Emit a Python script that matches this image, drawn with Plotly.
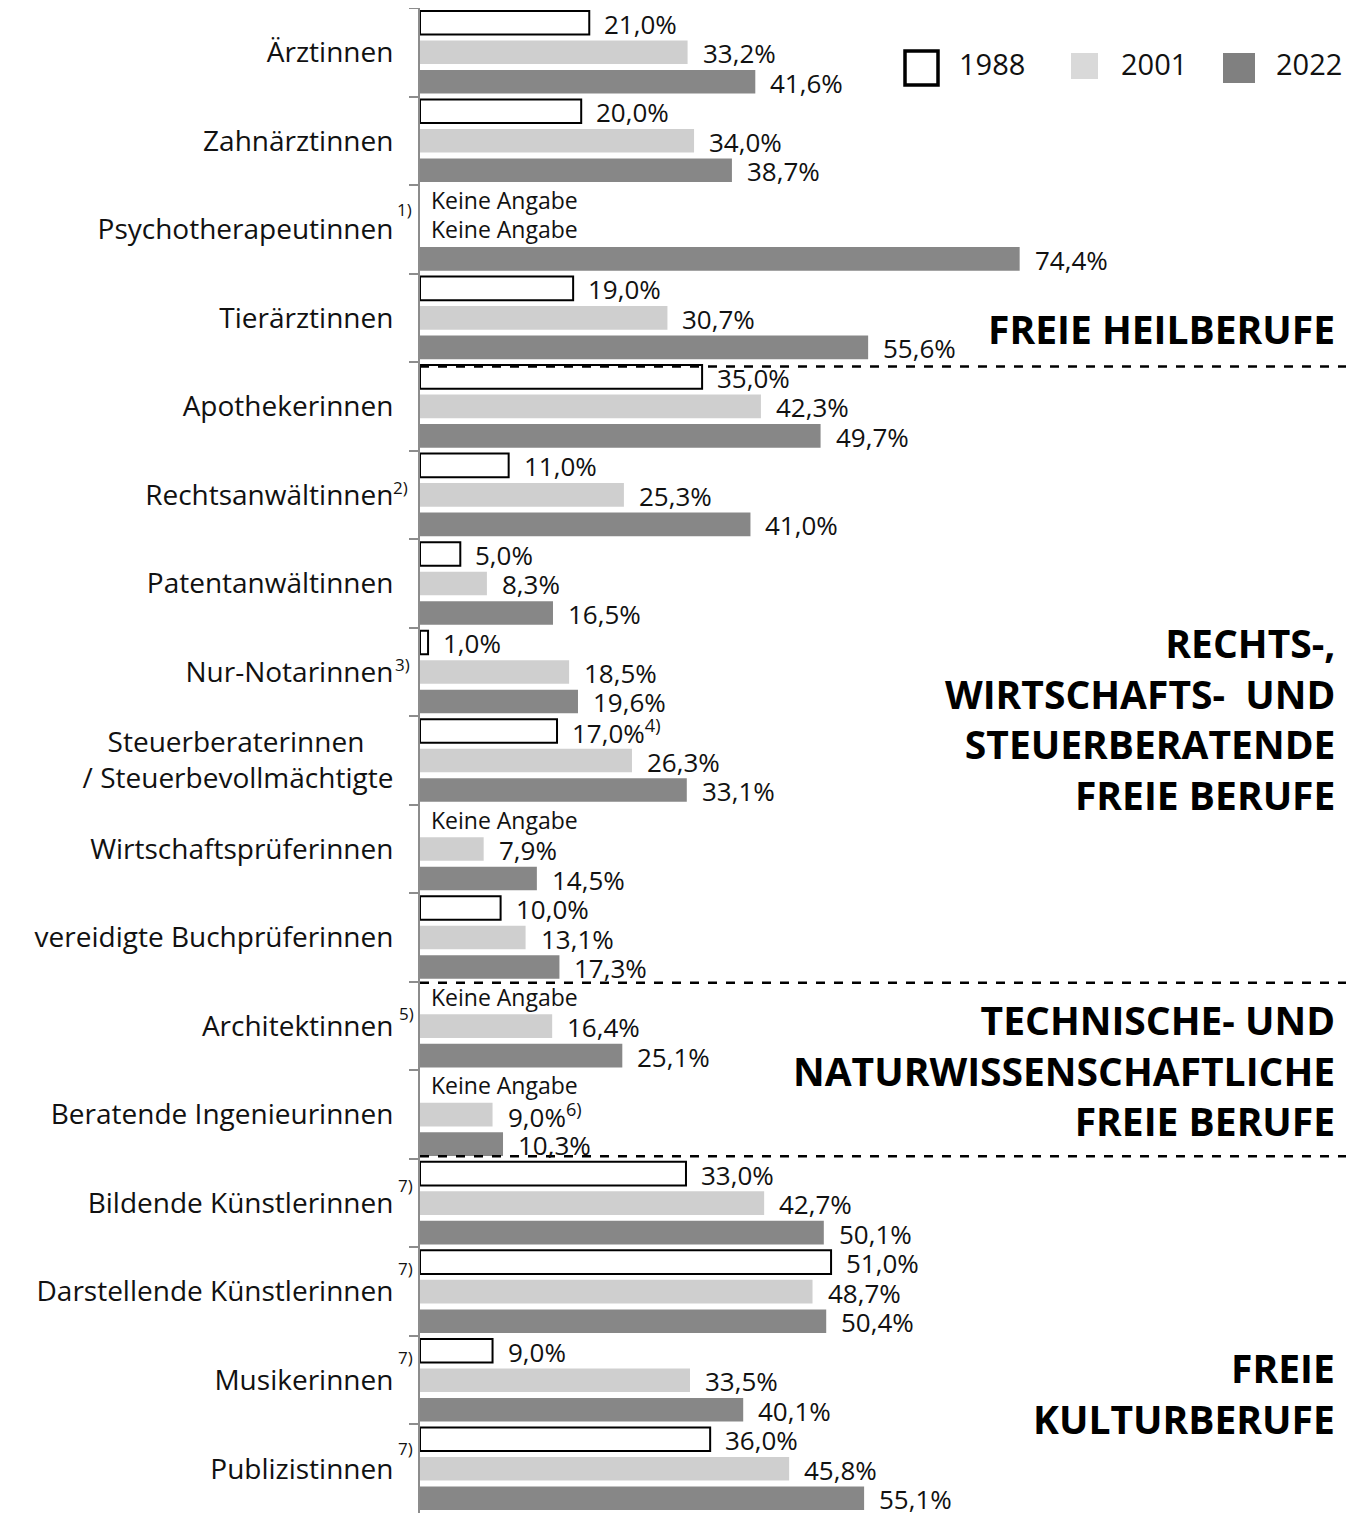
import plotly.graph_objects as go

# ---------------- data ----------------
categories = [
    "Ärztinnen", "Zahnärztinnen", "Psychotherapeutinnen", "Tierärztinnen",
    "Apothekerinnen", "Rechtsanwältinnen", "Patentanwältinnen", "Nur-Notarinnen",
    "Steuerberaterinnen\u00a0\u00a0\u00a0\u00a0<br>/ Steuerbevollmächtigte",
    "Wirtschaftsprüferinnen", "vereidigte Buchprüferinnen", "Architektinnen",
    "Beratende Ingenieurinnen", "Bildende Künstlerinnen", "Darstellende Künstlerinnen",
    "Musikerinnen", "Publizistinnen",
]
years = ["1988", "2001", "2022"]
values_1988 = [21.0, 20.0, None, 19.0, 35.0, 11.0, 5.0, 1.0, 17.0, None, 10.0, None, None, 33.0, 51.0, 9.0, 36.0]
values_2001 = [33.2, 34.0, None, 30.7, 42.3, 25.3, 8.3, 18.5, 26.3, 7.9, 13.1, 16.4, 9.0, 42.7, 48.7, 33.5, 45.8]
values_2022 = [41.6, 38.7, 74.4, 55.6, 49.7, 41.0, 16.5, 19.6, 33.1, 14.5, 17.3, 25.1, 10.3, 50.1, 50.4, 40.1, 55.1]
# footnotes attached to value labels: (year, category index, marker)
value_notes = {("1988", 8): "4)", ("2001", 12): "6)"}
# footnotes attached to category names: category index -> marker
category_notes = {2: "1)", 5: "2)", 7: "3)", 11: "5)", 13: "7)", 14: "7)", 15: "7)", 16: "7)"}
groups = [
    ("FREIE HEILBERUFE", 3.12),
    ("RECHTS-,<br>WIRTSCHAFTS-  UND<br>STEUERBERATENDE<br>FREIE BERUFE", 7.52),
    ("TECHNISCHE- UND<br>NATURWISSENSCHAFTLICHE<br>FREIE BERUFE", 11.50),
    ("FREIE<br>KULTURBERUFE", 15.14),
]
separators = [3.55, 10.51, 12.47]
missing_text = "Keine Angabe"

# ---------------- styling ----------------
FONT = "Open Sans"
OFF = 8                      # browser body margin
W, H = 1354 - OFF, 1513 - OFF
L, R, T, B = 412, 0, 0, 0
PW, PH = W - L - R, H - T - B
XMAX = PW / 8.06

fill = {"1988": "#ffffff", "2001": "#cfcfcf", "2022": "#878787"}
outline = {"1988": dict(color="#000000", width=2), "2001": dict(color="#ffffff", width=0),
           "2022": dict(color="#ffffff", width=0)}
series = {"1988": values_1988, "2001": values_2001, "2022": values_2022}


def fmt(v):
    return ("%.1f" % v).replace(".", ",") + "%"


annotations = []
shapes = []

fig = go.Figure()
for k, yr in enumerate(years):
    vals = series[yr]
    ys, xs = [], []
    for i, v in enumerate(vals):
        if v is None:
            # missing value -> "Keine Angabe" at the axis
            annotations.append(dict(
                x=0, y=i + (k - 1) / 3.0, xref="x", yref="y", text=missing_text,
                xanchor="left", yanchor="middle", xshift=9, showarrow=False,
                font=dict(family=FONT, size=23, color="#111111")))
            continue
        ys.append(categories[i])
        xs.append(v)
        t = fmt(v)
        note = value_notes.get((yr, i))
        if note:
            t += "<sup>" + note + "</sup>"
        annotations.append(dict(
            x=v, y=i + (k - 1) / 3.0, xref="x", yref="y", text=t,
            xanchor="left", yanchor="middle", xshift=14, yshift=-1, showarrow=False,
            borderpad=0, font=dict(family=FONT, size=26, color="#111111")))
    fig.add_trace(go.Bar(
        y=ys, x=xs, name=yr, orientation="h",
        marker=dict(color=fill[yr], line=outline[yr]),
        showlegend=False, hovertemplate="%{y}: %{x}%<extra>" + yr + "</extra>",
    ))

# footnote markers for category names
note_shift = {2: 20, 5: 7, 7: 7, 11: 13, 13: 18, 14: 23, 15: 23, 16: 20}
note_x = {2: -6, 5: -10, 7: -8, 11: -4, 13: -5, 14: -5, 15: -5, 16: -5}
for i, m in category_notes.items():
    annotations.append(dict(
        x=0, y=i, xref="paper", yref="y", text=m, xanchor="right", yanchor="middle",
        xshift=note_x[i], yshift=note_shift[i], showarrow=False,
        font=dict(family=FONT, size=17, color="#111111")))

# group headings
for txt, yy in groups:
    annotations.append(dict(
        x=(1337 - OFF - L) / PW, y=yy, xref="paper", yref="y", text="<b>" + txt + "</b>",
        xanchor="right", yanchor="middle", align="right", showarrow=False,
        font=dict(family=FONT, size=39, color="#000000")))

# dashed separators
for s in separators:
    shapes.append(dict(type="line", xref="paper", yref="y", x0=0, x1=1, y0=s, y1=s,
                       line=dict(color="#000000", width=2.5, dash="dash")))


# custom legend (page pixel positions -> paper)
def px(xp):
    return (xp - OFF - L) / PW


def py(yp):
    return 1 - (yp - OFF - T) / PH


legend_items = [
    ("1988", (905, 51, 938, 85), "#ffffff", dict(color="#000000", width=3.5), 957),
    ("2001", (1071, 53, 1098, 79), "#d9d9d9", dict(width=0), 1119),
    ("2022", (1223, 53, 1255, 83), "#808080", dict(width=0), 1274),
]
for name, (x0, y0, x1, y1), col, ln, tx in legend_items:
    shapes.append(dict(type="rect", xref="paper", yref="paper", x0=px(x0), x1=px(x1),
                       y0=py(y1), y1=py(y0), fillcolor=col, line=ln))
    annotations.append(dict(x=px(tx), y=py(63), xref="paper", yref="paper", text=name,
                            xanchor="left", yanchor="middle", showarrow=False,
                            font=dict(family=FONT, size=29, color="#111111")))

fig.update_layout(
    width=W, height=H,
    margin=dict(l=L, r=R, t=T, b=B, pad=0),
    paper_bgcolor="white", plot_bgcolor="white",
    barmode="group", bargap=0, bargroupgap=0.2,
    font=dict(family=FONT, color="#111111"),
    xaxis=dict(range=[0, XMAX], visible=False, showgrid=False, zeroline=False),
    yaxis=dict(type="category", categoryorder="array", categoryarray=categories,
               range=[len(categories) - 0.5, -0.5], showgrid=False, zeroline=False,
               showline=True, linecolor="#8c8c8c", linewidth=2,
               ticks="outside", tickson="boundaries", ticklen=9, tickwidth=2,
               tickcolor="#8c8c8c", ticklabelstandoff=19,
               tickfont=dict(family=FONT, size=28, color="#111111")),
    annotations=annotations, shapes=shapes,
)

fig.write_html("out.html")
